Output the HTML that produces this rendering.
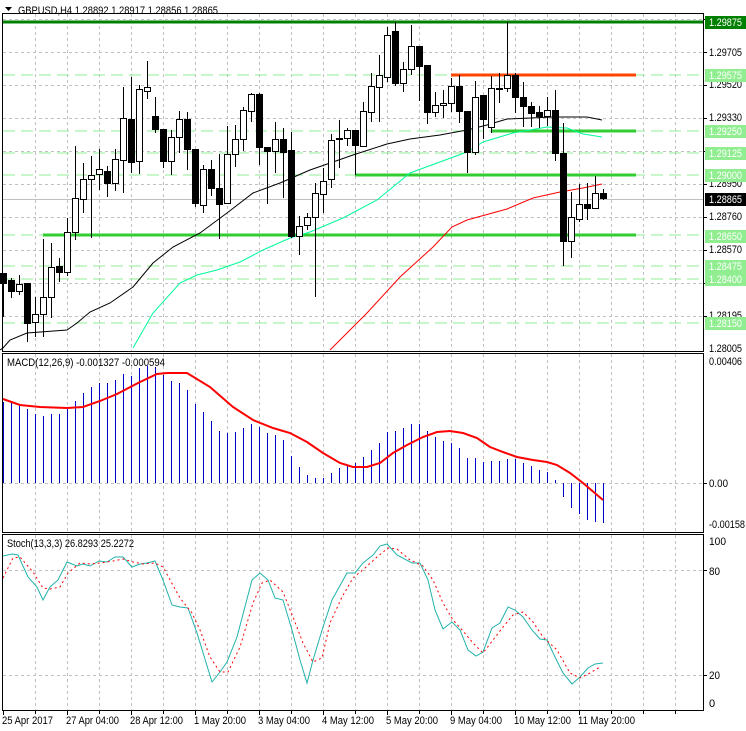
<!DOCTYPE html>
<html><head><meta charset="utf-8"><style>
html,body{margin:0;padding:0;background:#fff;}
svg{display:block;font-family:"Liberation Sans",sans-serif;font-size:11px;}
</style></head><body>
<svg id="s" width="746" height="731" xmlns="http://www.w3.org/2000/svg">
<rect width="746" height="731" fill="#fff"/>
<g id="grid"></g>
<g id="levels"></g>
<g id="ind"></g>
<g id="candles"></g>
<rect x="2.5" y="13.5" width="701" height="338" fill="none" stroke="#000"/>
<rect x="2.5" y="353.5" width="701" height="179" fill="none" stroke="#000"/>
<rect x="2.5" y="534.5" width="701" height="176" fill="none" stroke="#000"/>
<polygon points="5,7 12,7 8.5,11" fill="#000"/>
<text x="18" y="14" fill="#000" textLength="200" lengthAdjust="spacingAndGlyphs">GBPUSD,H4  1.28892 1.28917 1.28856 1.28865</text>
<text x="7" y="366" fill="#000" textLength="158" lengthAdjust="spacingAndGlyphs">MACD(12,26,9) -0.001327 -0.000594</text>
<text x="7" y="547" fill="#000" textLength="127" lengthAdjust="spacingAndGlyphs">Stoch(13,3,3) 26.8293 25.2272</text>
<g fill="#000" id="axl">
<text x="709" y="56">1.29705</text>
<text x="709" y="88">1.29520</text>
<text x="709" y="121">1.29330</text>
<text x="709" y="187">1.28950</text>
<text x="709" y="220">1.28760</text>
<text x="709" y="253">1.28570</text>
<text x="709" y="286">1.28380</text>
<text x="709" y="319">1.28195</text>
<text x="709" y="352">1.28005</text>
<text x="709" y="365">0.00406</text>
<text x="709" y="528">-0.00158</text>
</g>
<g fill="#000">
<text x="709" y="487" textLength="19" lengthAdjust="spacingAndGlyphs">0.00</text>
<text x="709" y="545" textLength="17" lengthAdjust="spacingAndGlyphs">100</text>
<text x="709" y="575" textLength="11" lengthAdjust="spacingAndGlyphs">80</text>
<text x="709" y="679" textLength="11" lengthAdjust="spacingAndGlyphs">20</text>
<text x="709" y="707">0</text>
</g>
<g id="lbl"></g>
<g fill="#000" id="tl">
<text x="2" y="724" textLength="51" lengthAdjust="spacingAndGlyphs">25 Apr 2017</text>
<text x="66" y="724" textLength="53" lengthAdjust="spacingAndGlyphs">27 Apr 04:00</text>
<text x="130" y="724" textLength="53" lengthAdjust="spacingAndGlyphs">28 Apr 12:00</text>
<text x="194" y="724" textLength="52" lengthAdjust="spacingAndGlyphs">1 May 20:00</text>
<text x="258" y="724" textLength="52" lengthAdjust="spacingAndGlyphs">3 May 04:00</text>
<text x="322" y="724" textLength="52" lengthAdjust="spacingAndGlyphs">4 May 12:00</text>
<text x="386" y="724" textLength="52" lengthAdjust="spacingAndGlyphs">5 May 20:00</text>
<text x="450" y="724" textLength="52" lengthAdjust="spacingAndGlyphs">9 May 04:00</text>
<text x="514" y="724" textLength="57" lengthAdjust="spacingAndGlyphs">10 May 12:00</text>
<text x="578" y="724" textLength="57" lengthAdjust="spacingAndGlyphs">11 May 20:00</text>
</g>
</svg>
<script>
var NS="http://www.w3.org/2000/svg";
function el(p,t,a){var e=document.createElementNS(NS,t);for(var k in a)e.setAttribute(k,a[k]);p.appendChild(e);return e;}
Array.prototype.forEach.call(document.querySelectorAll('#axl text'),function(t){t.setAttribute('textLength',t.textContent.length>7?36:33);t.setAttribute('lengthAdjust','spacingAndGlyphs');});
var g=document.getElementById('grid');
for(var x=35;x<703;x+=32){
 [[14,351],[354,532],[535,710]].forEach(function(r){el(g,'line',{x1:x+.5,x2:x+.5,y1:r[0],y2:r[1],stroke:'#c0c0c0','stroke-dasharray':'3,3'});});
 el(g,'line',{x1:x+.5,x2:x+.5,y1:711,y2:714,stroke:'#000'});
}
for(var i=0;i<10;i++){var tx=3+64*i;el(g,'line',{x1:tx+.5,x2:tx+.5,y1:711,y2:715,stroke:'#000'});}
for(var y=19;y<=348;y+=33){el(g,'line',{x1:3,x2:703,y1:y+.5,y2:y+.5,stroke:'#c0c0c0','stroke-dasharray':'3,3'});el(g,'line',{x1:703,x2:707,y1:y+.5,y2:y+.5,stroke:'#000'});}
[483,570,675].forEach(function(y){el(g,'line',{x1:3,x2:703,y1:y+.5,y2:y+.5,stroke:'#c0c0c0','stroke-dasharray':'3,3'});el(g,'line',{x1:703,x2:707,y1:y+.5,y2:y+.5,stroke:'#000'});});
var L=document.getElementById('levels');
[75,131,153,175,235,266,279,323].forEach(function(y){el(L,'line',{x1:3,x2:703,y1:y,y2:y,stroke:'#90ee90','stroke-dasharray':'12,6'});});
el(L,'line',{x1:3,x2:703,y1:199.5,y2:199.5,stroke:'#c0c0c0'});
el(L,'line',{x1:3,x2:703,y1:22,y2:22,stroke:'#008000','stroke-width':3});
el(L,'line',{x1:451,x2:636,y1:75,y2:75,stroke:'#ff4500','stroke-width':3});
el(L,'line',{x1:491,x2:636,y1:131,y2:131,stroke:'#32cd32','stroke-width':3});
el(L,'line',{x1:355,x2:636,y1:175,y2:175,stroke:'#32cd32','stroke-width':3});
el(L,'line',{x1:43,x2:636,y1:235,y2:235,stroke:'#32cd32','stroke-width':3});
var lb=document.getElementById('lbl');
[[22,'1.29875','#008000'],[75,'1.29575','#90ee90'],[131,'1.29250','#90ee90'],[153,'1.29125','#90ee90'],[175,'1.29000','#90ee90'],[199,'1.28865','#000'],[236,'1.28650','#90ee90'],[266,'1.28475','#90ee90'],[279,'1.28400','#90ee90'],[323,'1.28150','#90ee90']].forEach(function(a){
 el(lb,'rect',{x:705,y:a[0]-6,width:41,height:13,fill:a[2]});
 var t=el(lb,'text',{x:709,y:a[0]+4,fill:'#fff',textLength:33,lengthAdjust:'spacingAndGlyphs'});t.textContent=a[1];
});
var I=document.getElementById('ind');
function pl(pts,col,w,dash){var a={points:pts,fill:'none',stroke:col,'stroke-width':w};if(dash)a['stroke-dasharray']=dash;el(I,'polyline',a);}
pl("0,350 3,348 10,340 27,333 67,330 77,323 90,312 110,303 133,287 153,263 173,247 200,233 227,213 253,193 280,183 310,170 333,162 353,155 387,144 410,139 440,135 467,130 487,125 507,119 553,117 587,117 602,120","#000",1);
pl("133,348 153,313 180,283 197,275 217,270 240,262 263,250 290,238 310,232 343,218 377,200 410,173 467,152 483,142 513,133 547,127 567,128 583,134 602,137","#00fa9a",1);
pl("330,350 367,313 400,277 433,247 452,227 467,220 507,209 533,198 560,192 583,188 602,184","#ff0000",1);
var mb=[402,403,405,409,414,416,414,414,408,401,393,387,383,383,380,374,376,368,366,367,375,381,383,390,404,412,421,431,433,432,428,424,427,433,435,440,456,467,475,478,478,473,468,466,463,457,450,443,432,431,428,424,424,431,437,441,443,448,458,458,462,461,461,459,459,463,466,470,472,480,497,508,514,520,522,523];
mb.forEach(function(v,i){var x=3+8*i+.5;el(I,'line',{x1:x,x2:x,y1:483,y2:v,stroke:'#0000cd','stroke-width':1});});
pl("3,399 20,405 40,407 67,408 83,407 100,401 117,394 140,382 157,374 167,373 187,373 210,387 233,407 253,420 273,428 290,433 307,442 323,453 340,463 353,467 367,467 380,463 393,453 407,445 423,437 437,432 450,431 463,433 477,438 490,447 503,452 517,457 533,460 547,462 557,465 570,473 583,483 603,500","#ff0000",2);
pl("3,556 12,554 18,555 28,577 37,587 43,600 50,587 58,580 67,562 77,566 83,564 90,566 99,561 107,562 115,557 123,557 132,567 140,564 147,563 155,561 163,580 172,605 180,607 188,608 197,633 212,682 220,672 227,662 237,637 252,580 260,573 268,580 275,598 283,600 292,630 300,660 307,683 313,660 323,627 332,600 347,573 355,573 363,563 373,555 380,546 387,544 397,555 412,563 420,563 428,580 435,610 443,629 452,622 460,630 468,650 476,656 483,652 492,628 500,623 508,607 515,610 523,617 532,630 540,639 547,640 555,657 563,673 572,684 580,677 588,668 595,664 603,663","#20b2aa",1);
pl("3,578 13,558 20,557 33,572 43,588 50,589 60,587 68,573 80,563 90,564 100,563 113,561 123,559 133,562 143,564 155,563 163,567 180,598 192,613 200,630 210,657 220,672 228,672 240,647 253,603 262,583 270,580 283,592 293,617 303,643 313,662 322,658 330,623 342,597 353,578 365,568 377,557 388,548 397,549 410,560 423,566 433,580 443,603 453,620 463,631 473,643 483,653 493,640 503,627 513,615 523,612 533,622 543,637 557,650 570,673 580,678 590,673 600,667","#ff0000",1,"2,3");
var C=[[273,283,273,317,0],[280,291,278,298,0],[284,291,275,295,1],[283,323,283,342,0],[314,322,297,337,1],[297,314,239,337,1],[267,297,243,318,1],[266,272,258,282,0],[232,272,218,276,1],[198,232,146,240,1],[179,199,163,213,1],[175,179,156,238,1],[169,174,149,190,1],[171,183,166,197,0],[159,183,149,191,1],[118,160,87,193,1],[119,162,77,173,0],[89,161,85,174,1],[87,91,61,99,1],[116,129,97,133,0],[129,161,129,168,0],[137,161,130,175,1],[119,137,111,153,1],[119,149,112,170,0],[149,203,149,207,0],[169,205,165,213,1],[169,188,160,196,0],[188,204,154,239,0],[154,203,126,203,1],[139,154,125,167,1],[110,139,107,151,1],[94,111,93,122,1],[94,147,93,165,0],[147,151,147,204,0],[139,151,122,173,1],[139,152,128,198,0],[150,236,132,238,0],[226,236,216,255,1],[217,225,213,230,1],[193,217,183,297,1],[181,194,168,213,1],[140,179,134,188,1],[138,139,120,168,1],[130,138,128,146,1],[130,145,130,175,0],[111,146,102,146,1],[86,112,73,122,1],[75,87,55,122,1],[35,77,27,82,1],[31,83,22,86,0],[69,83,62,92,1],[46,69,25,75,1],[46,66,46,101,0],[65,112,65,124,0],[105,112,92,117,1],[103,105,90,118,1],[86,103,78,112,1],[86,111,75,123,0],[111,152,111,173,0],[97,152,81,155,1],[95,119,95,139,0],[88,127,76,133,1],[88,89,73,103,1],[75,88,22,92,1],[75,97,73,113,0],[97,106,82,127,0],[106,113,102,127,0],[112,116,106,128,0],[110,116,97,126,1],[110,153,90,161,0],[153,241,123,266,0],[217,241,192,258,1],[204,219,184,222,1],[204,208,183,220,0],[193,208,176,208,1],[193,198,189,200,0]];
var cg=document.getElementById('candles');
C.forEach(function(c,i){var x=3+8*i;
 el(cg,'line',{x1:x+.5,x2:x+.5,y1:c[2],y2:c[3],stroke:'#000'});
 var h=Math.max(1,c[1]-c[0]);
 el(cg,'rect',{x:x-2.5,y:c[0]+.5,width:6,height:h,fill:c[4]?'#fff':'#000',stroke:'#000'});
});
</script>
</body></html>
